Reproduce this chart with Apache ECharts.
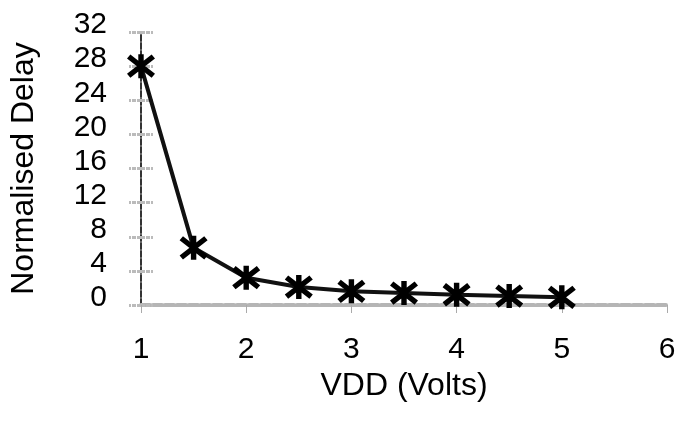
<!DOCTYPE html>
<html>
<head>
<meta charset="utf-8">
<script src="https://cdn.jsdelivr.net/npm/echarts@6/dist/echarts.min.js"></script>
<style>
  html, body { margin: 0; padding: 0; background: #fff; }
  #chart { width: 685px; height: 430px; }
</style>
</head>
<body>
<div id="chart"></div>
<script>
// supply voltage (V) and normalised delay
const vdd = [1, 1.5, 2, 2.5, 3, 3.5, 4, 4.5, 5]
const delay = [28, 6.7, 3.2, 2.1, 1.6, 1.4, 1.2, 1.05, 0.9]
const yTicks = [0, 4, 8, 12, 16, 20, 24, 28, 32]
const xTicks = [1, 2, 3, 4, 5, 6]

// asterisk marker: vertical bar plus two diagonals, all same winding
const starPath = 'path://M-2.2,-10L2.2,-10L2.2,10L-2.2,10Z' +
  'M-8.63,-9.72L11.38,6.28L8.63,9.72L-11.38,-6.28Z' +
  'M11.38,-6.28L-8.63,9.72L-11.38,6.28L8.63,-9.72Z'

const chart = echarts.init(document.getElementById('chart'))

const font = 'Liberation Sans'

chart.setOption({
  animation: false,
  grid: { left: 140, right: 18, top: 32, bottom: 125 },
  xAxis: {
    type: 'value',
    min: xTicks[0],
    max: xTicks[xTicks.length - 1],
    interval: 1,
    name: 'VDD (Volts)',
    nameLocation: 'middle',
    nameGap: 62,
    nameTextStyle: { fontFamily: font, fontSize: 32, color: '#000' },
    axisLine: { lineStyle: { color: '#b5b5b5', width: 4, type: [9, 3] } },
    axisTick: { show: true, length: 8, lineStyle: { color: '#aaa', width: 1 } },
    axisLabel: { fontFamily: font, fontSize: 30, color: '#000', margin: 30 },
    splitLine: { show: false }
  },
  yAxis: [{
    type: 'value',
    min: yTicks[0],
    max: yTicks[yTicks.length - 1],
    interval: 4,
    name: 'Normalised Delay',
    nameLocation: 'middle',
    nameGap: 101,
    nameTextStyle: { fontFamily: font, fontSize: 32, color: '#000' },
    axisLine: { lineStyle: { color: '#333', width: 2, type: [6, 2] } },
    axisTick: { show: true, length: 12, lineStyle: { color: '#bbb', width: 3, type: [4, 1] } },
    axisLabel: {
      fontFamily: font, fontSize: 30, color: '#000', margin: 34,
      verticalAlign: 'bottom', lineHeight: 14
    },
    splitLine: { show: false }
  }, {
    // second copy only to draw the tick dashes on the inner side
    type: 'value',
    position: 'left',
    min: yTicks[0],
    max: yTicks[yTicks.length - 1],
    interval: 4,
    axisLine: { show: false },
    axisTick: { show: true, inside: true, length: 12, lineStyle: { color: '#bbb', width: 3, type: [4, 1] } },
    axisLabel: { show: false },
    splitLine: { show: false }
  }],
  series: [{
    type: 'line',
    data: vdd.map((v, i) => [v, delay[i]]),
    symbol: starPath,
    symbolSize: [28, 24],
    showAllSymbol: true,
    lineStyle: { color: '#111', width: 4 },
    itemStyle: { color: '#000', borderWidth: 0 },
    z: 5
  }]
})
</script>
</body>
</html>
